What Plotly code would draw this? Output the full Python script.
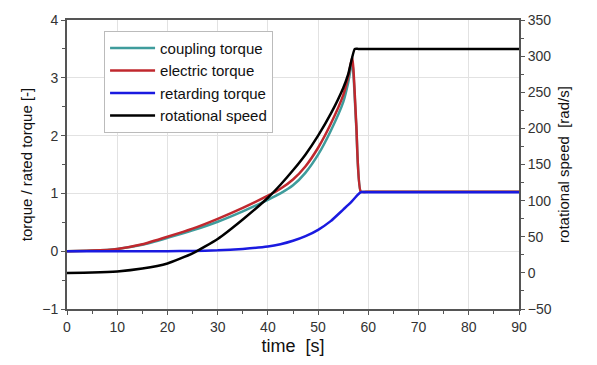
import plotly.graph_objects as go

# time axis samples [s]
t = [0, 5, 10, 15, 20, 25, 30, 35, 40, 42.5, 45, 47.5, 50, 52.5, 55, 56, 56.8, 57.6, 58.5, 60, 70, 80, 90]
electric = [0, 0.01, 0.04, 0.12, 0.25, 0.39, 0.56, 0.75, 0.96, 1.08, 1.24, 1.47, 1.79, 2.2, 2.7, 3.02, 3.36, 2.2, 1.03, 1.03, 1.03, 1.03, 1.03]
coupling = [0, 0.01, 0.04, 0.11, 0.23, 0.36, 0.51, 0.69, 0.89, 1.0, 1.14, 1.36, 1.67, 2.08, 2.58, 2.92, 3.28, 2.15, 1.03, 1.03, 1.03, 1.03, 1.03]
retarding = [0, 0, 0, 0, 0, 0.005, 0.015, 0.04, 0.08, 0.12, 0.18, 0.26, 0.37, 0.52, 0.72, 0.8, 0.87, 0.95, 1.02, 1.02, 1.02, 1.02, 1.02]
t_speed = [0, 5, 10, 15, 20, 25, 30, 35, 40, 42.5, 45, 47.5, 50, 52.5, 55, 56, 57.3, 58, 60, 70, 80, 90]
speed = [0, 0.5, 2, 6, 13, 27, 47, 74, 104, 122, 142, 164, 190, 220, 256, 275, 310, 310, 310, 310, 310, 310]

FONT = "Liberation Sans, Arial, sans-serif"

fig = go.Figure()
fig.add_trace(go.Scatter(x=t, y=coupling, name="coupling torque", mode="lines",
                         line=dict(color="#3f9c9c", width=2.5, shape="spline", smoothing=0.5)))
fig.add_trace(go.Scatter(x=t, y=electric, name="electric torque", mode="lines",
                         line=dict(color="#c0282e", width=2.5, shape="spline", smoothing=0.5)))
fig.add_trace(go.Scatter(x=t, y=retarding, name="retarding torque", mode="lines",
                         line=dict(color="#1a1ae0", width=2.5, shape="spline", smoothing=0.5)))
fig.add_trace(go.Scatter(x=t_speed, y=speed, name="rotational speed", mode="lines", yaxis="y2",
                         line=dict(color="#000000", width=2.5, shape="spline", smoothing=0.5)))

axis_common = dict(showline=True, linecolor="#555555", linewidth=2, ticks="outside",
                   ticklen=4, tickcolor="#555555", tickwidth=1,
                   tickfont=dict(family=FONT, size=14, color="#333333"),
                   zeroline=False)

fig.update_layout(
    width=597, height=365,
    margin=dict(l=67, r=78, t=16, b=55),
    paper_bgcolor="white", plot_bgcolor="white",
    font=dict(family=FONT, color="#111111"),
    xaxis=dict(range=[0, 90], dtick=10, mirror=True, showgrid=True, gridcolor="#e2e2e2",
               minor=dict(dtick=5, ticks="outside", ticklen=3, tickcolor="#555555"),
               title=dict(text="time  [s]", font=dict(family=FONT, size=18), standoff=6), **axis_common),
    yaxis=dict(range=[-1, 4], dtick=1, showgrid=True, gridcolor="#e2e2e2",
               minor=dict(dtick=0.5, ticks="outside", ticklen=3, tickcolor="#555555"),
               title=dict(text="torque / rated torque [-]", font=dict(family=FONT, size=15), standoff=6),
               **axis_common),
    yaxis2=dict(range=[-50, 350], dtick=50, overlaying="y", side="right", showgrid=False,
                minor=dict(dtick=25, ticks="outside", ticklen=3, tickcolor="#555555"),
                title=dict(text="rotational speed  [rad/s]", font=dict(family=FONT, size=15), standoff=8),
                **axis_common),
    legend=dict(x=0.082, y=0.963, xanchor="left", yanchor="top",
                bgcolor="white", bordercolor="#bbbbbb", borderwidth=1,
                font=dict(family=FONT, size=15, color="#111111"), tracegroupgap=0,
                itemwidth=45),
    showlegend=True,
)

fig.write_html("out.html")
